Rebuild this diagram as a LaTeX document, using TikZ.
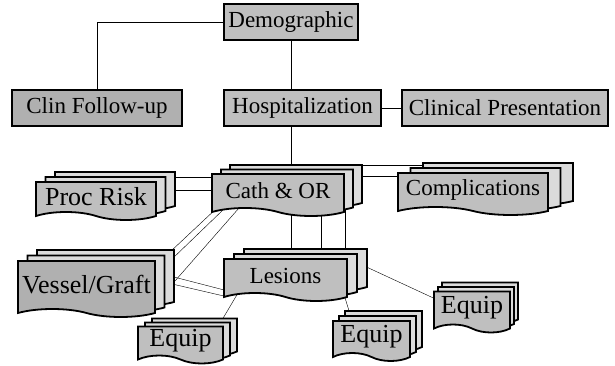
\documentclass[tikz,border=0pt]{standalone}
\usepackage{fontspec}
\setmainfont{Liberation Serif}
\usetikzlibrary{positioning, calc, shapes.symbols, backgrounds}

% stacked documents: [front style]{name}{centre}{width}{height}{layer shift}{text}
\newcommand{\docstack}[7][]{%
  \node[doclayer, minimum width=#4, minimum height=#5] (#2back) at ($(#3)+2*(#6)$) {};
  \node[doclayer, minimum width=#4, minimum height=#5] (#2mid) at ($(#3)+(#6)$) {};
  \node[docfront, minimum width=#4, minimum height=#5, #1] (#2) at (#3) {#7};
}

\begin{document}
\begin{tikzpicture}[x=1pt, y=-1pt,
      box/.style={draw, line width=2pt, fill=gray!50, inner sep=1pt,
        minimum height=36pt, font=\fontsize{23}{26}\selectfont},
      doclayer/.style={tape, tape bend top=none, tape bend bottom=out and in,
        tape bend height=8pt, draw, line width=1.8pt, fill=gray!28, inner sep=1pt},
      docfront/.style={doclayer, fill=gray!50, font=\fontsize{23}{26}\selectfont},
      big/.style={font=\fontsize{26}{29}\selectfont},
      dark/.style={fill=gray!62},
      link/.style={line width=1.7pt}]

    \useasboundingbox (0,0) rectangle (615,366);

    %% ---- top levels ------------------------------------------------------
    \node[box, minimum width=134pt] (dem) at (291,22) {Demographic};
    \node[box, dark, minimum width=170pt] (clin) at (97,108) {Clin Follow-up};
    \node[box, minimum width=157pt] (hosp) at (302.5,108) {Hospitalization};
    \node[box, minimum width=206pt] (pres) at (505,108) {Clinical Presentation};

    %% ---- stacked records ---------------------------------------------------
    \docstack[big]{proc}{96,197}{120pt}{38pt}{9.5,-5}{Proc Risk}
    \docstack{cath}{278,191}{132pt}{42pt}{9,-4.5}{Cath \& OR}
    \docstack{comp}{473,190}{150pt}{42pt}{12.5,-5}{Complications}
    \docstack[big, dark]{vessel}{86.5,285}{137pt}{56pt}{9.5,-5.5}{Vessel/Graft}
    \docstack{lesions}{285.5,276}{123pt}{42pt}{10,-5}{Lesions}
    \docstack[big]{equipL}{180.5,341}{85pt}{37pt}{7,-4}{Equip}
    \docstack[big]{equipM}{371.5,337}{77pt}{40pt}{6,-5}{Equip}
    \docstack[big]{equipR}{472,308}{76pt}{41pt}{4,-4.5}{Equip}

    %% ---- links, behind the boxes ------------------------------------------
    \begin{scope}[on background layer, link]
      \draw (dem) -| (clin);
      \draw (dem) -- (dem |- cath);
      \draw (hosp) -- (pres);
      \draw ($(procback)+(0,-10)$) -- ($(cath)+(0,-14)$);
      \draw ($(procback)+(0,3)$) -- ($(cath)+(0,-1)$);
      \draw ($(cathback)+(0,-17)$) -- ($(compmid)+(0,-20)$);
      \draw ($(cathback)+(0,-6)$) -- ($(comp)+(0,-14)$);
      \draw ($(cath)+(-60,16)$) -- ($(vesselback)+(64.5,-22)$);
      \draw ($(cath)+(-53,17)$) -- ($(vesselback)+(65.5,-14)$);
      \draw ($(cath)+(-39,17)$) -- ($(vesselback)+(65.5,11.5)$);
      \draw ($(vesselback)+(64.5,2)$) -- ($(lesions)+(-55.5,15.5)$);
      \draw ($(vesselback)+(64.5,9.5)$) -- ($(lesions)+(-59.5,20.5)$);
      \draw ($(cath)+(13,0)$) -- ($(lesionsback)+(-14.5,0)$);
      \draw ($(cath)+(43,0)$) -- ($(lesionsback)+(15.5,0)$);
      \draw ($(cathmid)+(58,0)$) -- ($(lesionsback)+(39.5,0)$);
      \draw ($(lesions)+(-47.5,17)$) -- ($(equipLback)+(27.5,-13)$);
      \draw ($(lesions)+(56.5,12)$) -- ($(equipMback)+(-33.5,-13)$);
      \draw ($(lesionsback)+(54.5,-2)$) -- ($(equipR)+(-30,-6)$);
    \end{scope}
\end{tikzpicture}
\end{document}
